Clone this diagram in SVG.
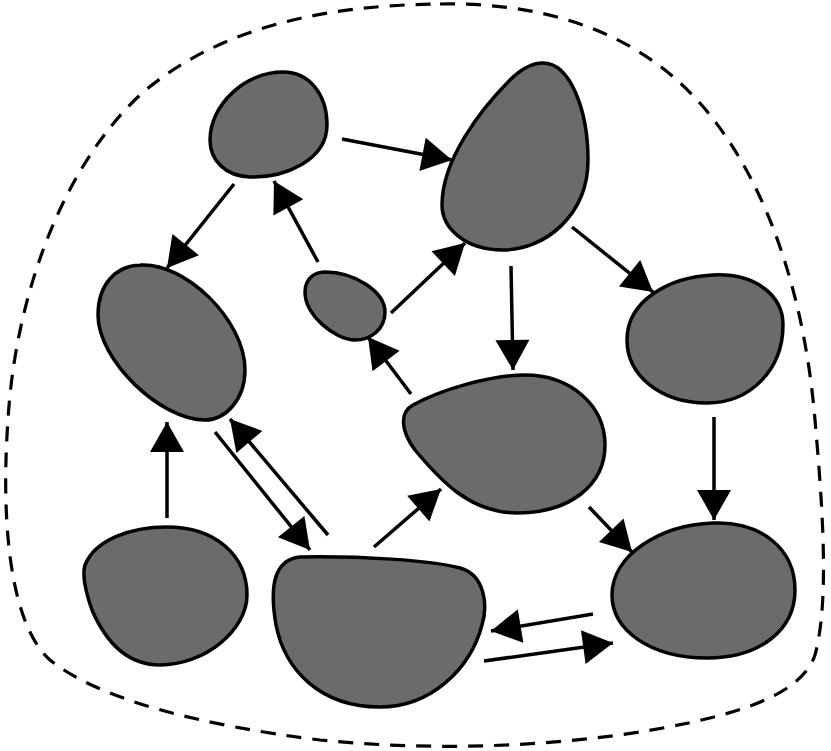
<svg xmlns="http://www.w3.org/2000/svg" width="831" height="751" viewBox="0 0 831 751">
<style>
.blob{fill:#6b6b6b;stroke:#000;stroke-width:3.5;stroke-linejoin:round}
.edge{stroke:#000;stroke-width:3.5;fill:none;marker-end:url(#ah)}
.boundary{fill:none;stroke:#000;stroke-width:3.2;stroke-dasharray:15 11}
</style>
<defs>
<marker id="ah" markerUnits="userSpaceOnUse" markerWidth="32" markerHeight="36" refX="30" refY="17" orient="auto" overflow="visible">
<path d="M0,0 L30,17 L0,34 Z" fill="#000"/>
</marker>
</defs>
<rect width="831" height="751" fill="#fff"/>
<path id="boundary" class="boundary" d="M 440 4 C 560 2, 650 40, 710 115 C 770 190, 805 300, 815 420 C 822 500, 830 600, 815 655 C 800 700, 720 720, 620 735 C 520 748, 420 750, 320 740 C 200 725, 100 700, 50 660 C 5 620, 2 500, 8 420 C 15 300, 60 170, 140 95 C 220 25, 330 5, 440 4 Z"/>
<g id="nodes">
<g id="nodeA"><path class="blob" d="M 283 72 C 310 72, 327 95, 327 125 C 327 160, 285 178, 250 177 C 225 176, 210 160, 210 140 C 210 105, 245 72, 283 72 Z"/></g>
<g id="nodeB"><path class="blob" d="M 543 63 C 570 63, 588 110, 588 160 C 588 215, 545 250, 503 250 C 465 250, 442 228, 442 205 C 442 160, 480 110, 510 80 C 520 70, 530 63, 543 63 Z"/></g>
<g id="nodeC"><path class="blob" d="M 325 272 C 355 272, 385 292, 385 312 C 385 330, 370 340, 355 340 C 335 340, 305 315, 305 292 C 305 280, 313 272, 325 272 Z"/></g>
<g id="nodeD"><path class="blob" d="M 140 265 C 185 262, 245 320, 245 370 C 245 400, 225 420, 205 420 C 160 420, 98 360, 98 315 C 98 285, 115 266, 140 265 Z"/></g>
<g id="nodeF"><path class="blob" d="M 413 405 C 440 390, 490 375, 525 375 C 570 375, 605 405, 605 445 C 605 485, 570 513, 517 513 C 470 513, 440 480, 415 450 C 400 430, 400 412, 413 405 Z"/></g>
<g id="nodeG"><path class="blob" d="M 713 275 C 755 273, 783 295, 783 325 C 783 370, 750 403, 707 403 C 660 403, 627 375, 627 340 C 627 300, 670 277, 713 275 Z"/></g>
<g id="nodeH"><path class="blob" d="M 713 523 C 760 521, 795 548, 795 590 C 795 630, 760 658, 707 658 C 650 658, 612 630, 612 595 C 612 555, 660 525, 713 523 Z"/></g>
<g id="nodeI"><path class="blob" d="M 167 527 C 215 527, 247 555, 247 595 C 247 630, 205 665, 160 665 C 125 665, 105 640, 92 610 C 85 590, 82 575, 85 565 C 95 540, 130 527, 167 527 Z"/></g>
<g id="nodeE"><path class="blob" d="M 300 557 C 360 556, 430 560, 460 568 C 485 575, 488 605, 482 625 C 470 670, 430 707, 380 707 C 320 707, 285 670, 276 625 C 270 590, 272 560, 300 557 Z"/></g>
</g>
<g id="connectors">
<line class="edge" x1="342" y1="139" x2="452" y2="160"/>
<line class="edge" x1="234" y1="184" x2="167" y2="268"/>
<line class="edge" x1="318" y1="262" x2="274" y2="181"/>
<line class="edge" x1="391" y1="313" x2="465" y2="243"/>
<line class="edge" x1="411" y1="394" x2="368" y2="337"/>
<line class="edge" x1="511" y1="266" x2="513" y2="370"/>
<line class="edge" x1="572" y1="227" x2="653" y2="292"/>
<line class="edge" x1="374" y1="547" x2="441" y2="489"/>
<line class="edge" x1="589" y1="507" x2="632" y2="552"/>
<line class="edge" x1="714" y1="417" x2="714" y2="520"/>
<line class="edge" x1="167" y1="518" x2="167" y2="422"/>
<line class="edge" x1="215" y1="432" x2="310" y2="550"/>
<line class="edge" x1="328" y1="535" x2="230" y2="419"/>
<line class="edge" x1="593" y1="614" x2="491" y2="631"/>
<line class="edge" x1="484" y1="661" x2="613" y2="643"/>
</g>
</svg>
